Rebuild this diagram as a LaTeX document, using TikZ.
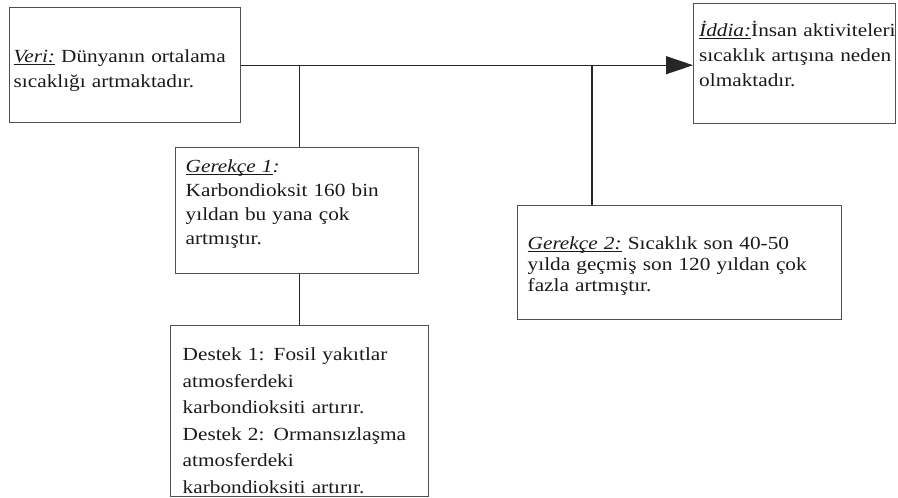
\documentclass[tikz,border=0pt]{standalone}
\usepackage{fontspec}
\setmainfont{Liberation Serif}[FakeStretch=1.15]
\usetikzlibrary{arrows.meta}
\definecolor{boxgray}{HTML}{505050}
\definecolor{inkgray}{HTML}{1A1A1A}
\newcommand{\lbl}[1]{\setbox0\hbox{\textit{#1}}\rlap{\rule[-2pt]{\wd0}{0.8pt}}\box0\relax}

\begin{document}
\begin{tikzpicture}[x=1pt, y=-1pt, font=\fontsize{18.5}{25}\selectfont,
  box/.style={draw=boxgray, line width=1.4pt, anchor=north west, align=left, inner ysep=0pt, text=inkgray},
  link/.style={draw=black!85, line width=1.1pt}]
\useasboundingbox (0,0) rectangle (898,498);

% claim boxes
\node[box, inner xsep=4pt, text width=223pt, text height=55pt, text depth=60pt] (veri) at (9,7)
  {\lbl{Veri:} Dünyanın ortalama\\ sıcaklığı artmaktadır.};
\node[box, inner xsep=1.5pt, text width=199pt, text height=33pt, text depth=87pt] (iddia) at (693,3)
  {\mbox{\hspace*{4pt}\lbl{İddia:}İnsan aktiviteleri}\\
   \mbox{\hspace*{4pt}sıcaklık artışına neden}\\
   \mbox{\hspace*{4pt}olmaktadır.}};
\node[box, inner xsep=10pt, text width=223pt, text height=25pt, text depth=101pt, font=\fontsize{18.5}{24}\selectfont] (ger1) at (175,147)
  {\lbl{Gerekçe 1}\textit{:}\\ Karbondioksit 160 bin\\ yıldan bu yana çok\\ artmıştır.};
\node[box, inner xsep=12pt, text width=234pt, text height=35pt, text depth=136pt, font=\fontsize{18.5}{26.5}\selectfont] (destek) at (170,325)
  {Destek 1: Fosil yakıtlar\\ atmosferdeki\\ karbondioksiti artırır.\\ Destek 2: Ormansızlaşma\\ atmosferdeki\\ karbondioksiti artırır.};
\node[box, inner xsep=10pt, text width=304pt, text height=44pt, text depth=70pt, font=\fontsize{18.5}{21}\selectfont] (ger2) at (517,205)
  {\lbl{Gerekçe 2:} Sıcaklık son 40-50\\ yılda geçmiş son 120 yıldan çok\\ fazla artmıştır.};

% connectors
\coordinate (g1top) at ([xshift=2pt]ger1.north);
\coordinate (g2top) at ([xshift=75pt]ger2.north west);
\draw[link, -{Triangle[length=27pt, width=18pt]}] (veri.east) -- (veri.east -| iddia.west);
\draw[link] (g1top) -- (g1top |- veri.east);
\draw[link] ([xshift=2pt]ger1.south) -- ([xshift=2pt]ger1.south |- destek.north);
\draw[link] (g2top) -- (g2top |- veri.east);
\end{tikzpicture}
\end{document}
